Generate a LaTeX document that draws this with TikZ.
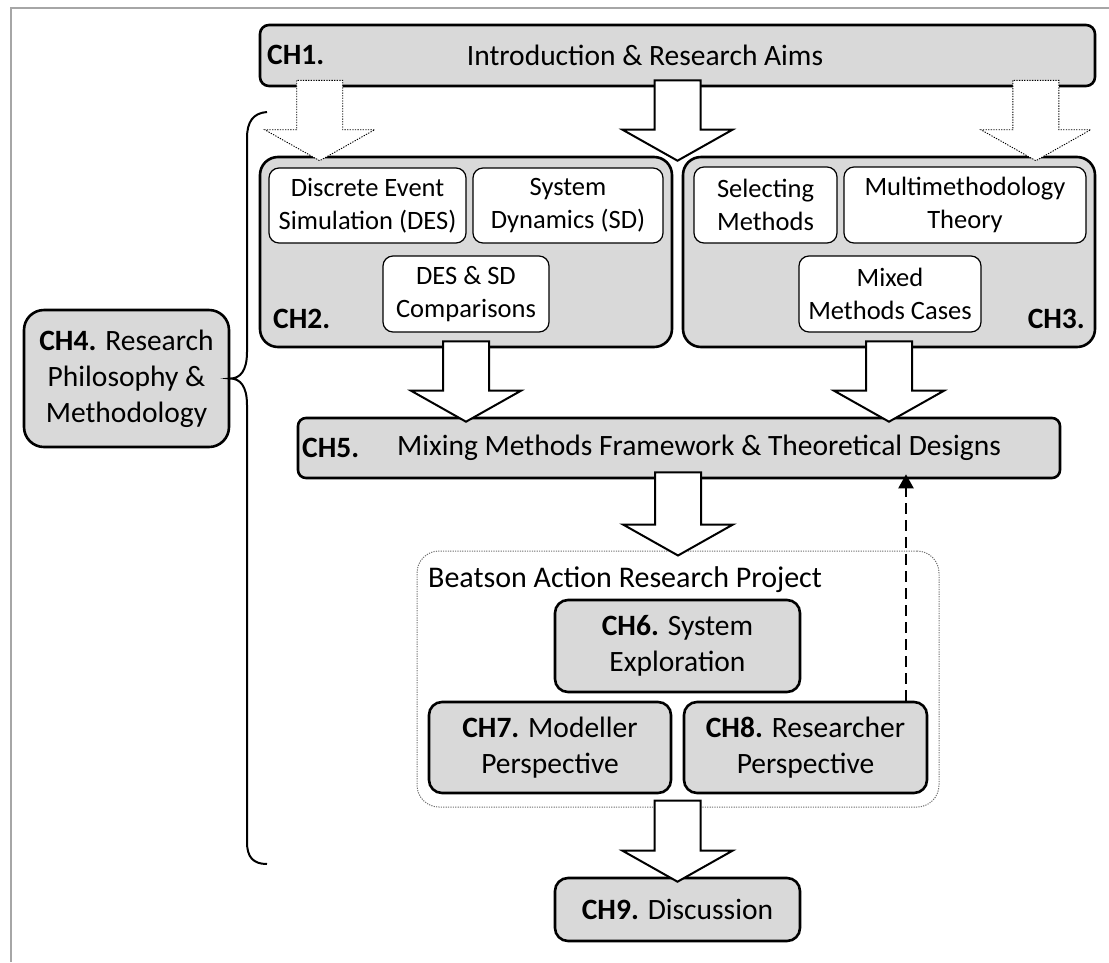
\documentclass[tikz,border=0pt]{standalone}
\usepackage{fontspec}
\setmainfont{Carlito}
\usetikzlibrary{calc,arrows.meta}

\definecolor{boxgray}{HTML}{D9D9D9}
\definecolor{framegray}{HTML}{A6A6A6}
\definecolor{dotgray}{HTML}{707070}

\newcommand\bodyfont{\fontsize{26.5pt}{33pt}\selectfont}
\newcommand\chapfont{\fontsize{29.5pt}{36pt}\selectfont}
\newcommand\projfont{\fontsize{30pt}{36pt}\selectfont}

% vertical block arrow: shaft from #2 (raised 7pt) to tip at #3 (lowered 5pt)
\newcommand\blockarrow[3][]{%
  \draw[#1] let \p1=#2, \p2=#3 in
    (\x1-23pt,\y1+7pt) -- (\x1-23pt,\y2+26pt) -- (\x1-55pt,\y2+26pt)
    -- (\x1,\y2-5pt) -- (\x1+55pt,\y2+26pt) -- (\x1+23pt,\y2+26pt)
    -- (\x1+23pt,\y1+7pt) -- cycle;}

\tikzset{
  chapter/.style={draw=black, line width=2.6pt, fill=boxgray,
    rounded corners=#1, inner sep=3pt, align=center, font=\chapfont},
  chapter/.default=13pt,
  topic/.style={draw=black, line width=1.2pt, fill=white,
    rounded corners=10pt, inner sep=3pt, align=center, font=\bodyfont},
  tag/.style={font=\chapfont\bfseries, inner sep=0pt},
  caption/.style={font=\chapfont, inner sep=0pt},
  solidarrow/.style={draw=black, line width=2pt, fill=white, line join=miter},
  dottedarrow/.style={draw=black, line width=0.9pt, fill=white,
    dash pattern=on 1.3pt off 1.3pt},
  project/.style={draw=dotgray, line width=1pt, rounded corners=22pt,
    dash pattern=on 1.2pt off 1.2pt},
  brace/.style={draw=black, line width=2pt},
  feedback/.style={draw=black, line width=2.3pt, dash pattern=on 11pt off 6pt,
    -{Triangle[length=14pt,width=15pt]}, shorten >=-5pt},
}

\begin{document}
\begin{tikzpicture}[x=1pt, y=-1pt]
\useasboundingbox (0,0) rectangle (1109,962);

% page frame
\draw[framegray, line width=2pt] (11,962) -- (11,8) -- (1109,8);

% CH1
\node[chapter=9pt, minimum width=835, minimum height=61] (ch1) at (677.5,55.5) {};
\node[tag, anchor=west] (ch1t) at (267,55) {CH1.};
\node[caption] (ch1c) at (645,55) {Introduction \& Research Aims};

% CH2 and its topics
\node[chapter=18pt, minimum width=412, minimum height=190] (ch2) at (466,252) {};
\node[topic, minimum width=197, minimum height=75] (des) at (367.5,205.5) {Discrete Event\\Simulation (DES)};
\node[topic, minimum width=190, minimum height=75] (sd) at (568,205.5) {System\\Dynamics (SD)};
\node[topic, minimum width=166, minimum height=76] (cmp) at (466,294) {DES \& SD\\Comparisons};
\node[tag, anchor=west] (ch2t) at (273,319) {CH2.};

% CH3 and its topics
\node[chapter=18pt, minimum width=412, minimum height=190] (ch3) at (889,252) {};
\node[topic, minimum width=143, minimum height=76] (sel) at (765.5,205) {Selecting\\Methods};
\node[topic, minimum width=242, minimum height=76] (mmt) at (965,205) {Multimethodology\\Theory};
\node[topic, minimum width=182, minimum height=76] (mmc) at (890,294) {Mixed\\Methods Cases};
\node[tag, anchor=east] (ch3t) at (1085,319) {CH3.};

% CH4
\node[chapter=20pt, minimum width=205, minimum height=137] (ch4) at (126.5,378.5)
  {\textbf{CH4.} Research\\Philosophy \&\\Methodology};

% CH5
\node[chapter=8pt, minimum width=762, minimum height=60] (ch5) at (679,448) {};
\node[tag, anchor=west] (ch5t) at (302,448) {CH5.};
\node[caption] (ch5c) at (699,448) {Mixing Methods Framework \& Theoretical Designs};

% Beatson action research project
\node[project, minimum width=522, minimum height=256] (bp) at (678,679) {};
\node[caption, font=\projfont, anchor=west] (bpt) at (428,580) {Beatson Action Research Project};
\node[chapter, minimum width=245, minimum height=92] (ch6) at (677.5,646) {\textbf{CH6.} System\\Exploration};
\node[chapter, minimum width=242, minimum height=91] (ch7) at (550,747.5) {\textbf{CH7.} Modeller\\Perspective};
\node[chapter, minimum width=243, minimum height=91] (ch8) at (805.5,747.5) {\textbf{CH8.} Researcher\\Perspective};

% CH9
\node[chapter, minimum width=245, minimum height=63] (ch9) at (677.5,909.5) {\textbf{CH9.} Discussion};

% brace from CH4 over chapters 2 to 8
\coordinate (bt) at (267,112);
\coordinate (bb) at (267,864);
\draw[brace] (bt) .. controls (253,113) and (247,122) .. (247,138)
  -- (247,352) .. controls (247,371) and (240,378.5) .. (ch4.east)
  .. controls (240,378.5) and (247,386) .. (247,405)
  -- (247,842) .. controls (247,857) and (253,864) .. (bb);

% block arrows
\coordinate (dl) at ($(ch2.north west)+(61,0)$);
\coordinate (dm) at ($(ch2.north east)!0.5!(ch3.north west)$);
\coordinate (dr) at ($(ch3.north east)+(-60.5,0)$);
\blockarrow[dottedarrow]{(ch1.south -| dl)}{(dl)}
\blockarrow[solidarrow]{(ch1.south -| dm)}{(dm)}
\blockarrow[dottedarrow]{(ch1.south -| dr)}{(dr)}
\blockarrow[solidarrow]{(ch2.south)}{(ch5.north -| ch2.south)}
\blockarrow[solidarrow]{(ch3.south)}{(ch5.north -| ch3.south)}
\blockarrow[solidarrow]{(ch5.south -| bp.north)}{(bp.north)}
\blockarrow[solidarrow]{(bp.south -| ch9.north)}{(ch9.north)}

% feedback from CH8 to CH5
\coordinate (fb) at (906,0);
\draw[feedback] (ch8.north -| fb) -- (ch5.south -| fb);
\end{tikzpicture}
\end{document}
